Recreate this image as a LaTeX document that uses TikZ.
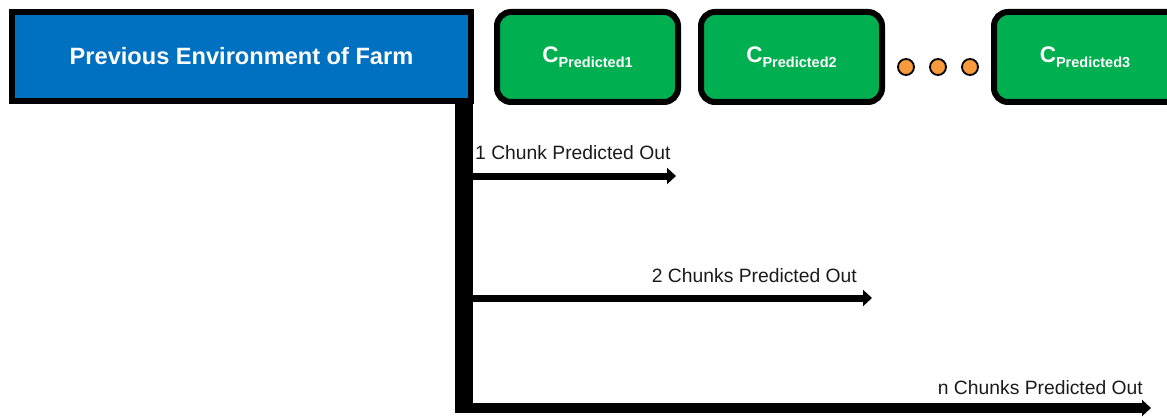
\documentclass[tikz,border=0pt]{standalone}
\usepackage{fontspec}
\setmainfont{Liberation Sans}
\usetikzlibrary{arrows.meta,shadows}
\definecolor{farmblue}{HTML}{0070C0}
\definecolor{chunkgreen}{HTML}{00B050}
\definecolor{dotorange}{HTML}{F79A3B}
\definecolor{labelgray}{HTML}{1A1A1A}
\newcommand{\cpred}[1]{{\fontsize{22.5}{22.5}\selectfont C}\raisebox{-5pt}{\fontsize{14.5}{14.5}\selectfont Predicted#1}}
\begin{document}
\begin{tikzpicture}[x=1pt,y=-1pt,
  envbox/.style={draw=black,line width=6pt,fill=farmblue,minimum width=459pt,minimum height=89pt,
    inner sep=0pt,text=white,font=\bfseries\fontsize{23.6}{23.6}\selectfont,
    drop shadow={opacity=0.35,shadow xshift=2pt,shadow yshift=-2pt}},
  chunkbox/.style={draw=black,line width=6pt,fill=chunkgreen,rounded corners=14pt,minimum width=181pt,
    minimum height=90pt,inner sep=0pt,text=white,font=\bfseries,
    drop shadow={opacity=0.35,shadow xshift=2pt,shadow yshift=-2pt}},
  orangedot/.style={circle,draw=black,line width=1.8pt,fill=dotorange,minimum size=16pt,inner sep=0pt},
  predarrow/.style={line width=7pt,-{Triangle[length=9pt,width=16pt]}},
  lbl/.style={text=labelgray,font=\fontsize{19.3}{19.3}\selectfont,inner sep=0pt}
]
\useasboundingbox (0,0) rectangle (1167,417);
% trunk
\coordinate (trunktop) at (464,100);
\coordinate (trunkbot) at (464,413);
\draw[line width=18pt] (trunktop) -- (trunkbot);
% previous environment box
\node[envbox] (env) at (241.5,56.5) {Previous Environment of Farm};
% chunk boxes
\node[chunkbox] (c1) at (587.5,57) {\cpred{1}};
\node[chunkbox] (c2) at (791.5,57) {\cpred{2}};
\begin{scope}
\clip (0,0) rectangle (1167,417);
\node[chunkbox,minimum width=200pt] (c3) at (1094,57) {};
\end{scope}
\node[text=white,font=\bfseries] (c3t) at (1085,57) {\cpred{3}};
% dots
\node[orangedot] (d1) at (906,67) {};
\node[orangedot] (d2) at (938,67) {};
\node[orangedot] (d3) at (970,67) {};
% arrows
\coordinate (a1s) at (464,176);
\coordinate (a1e) at (676,176);
\coordinate (a2s) at (464,298);
\coordinate (a2e) at (872,298);
\coordinate (a3s) at (455,408);
\coordinate (a3e) at (1151,408);
\draw[predarrow] (a1s) -- (a1e);
\draw[predarrow] (a2s) -- (a2e);
\draw[predarrow,line width=10pt] (a3s) -- (a3e);
% labels
\node[lbl,anchor=west] (l1) at (475,153) {1 Chunk Predicted Out};
\node[lbl,anchor=east] (l2) at (857,276) {2 Chunks Predicted Out};
\node[lbl,anchor=east] (l3) at (1143,388) {n Chunks Predicted Out};
\end{tikzpicture}
\end{document}
